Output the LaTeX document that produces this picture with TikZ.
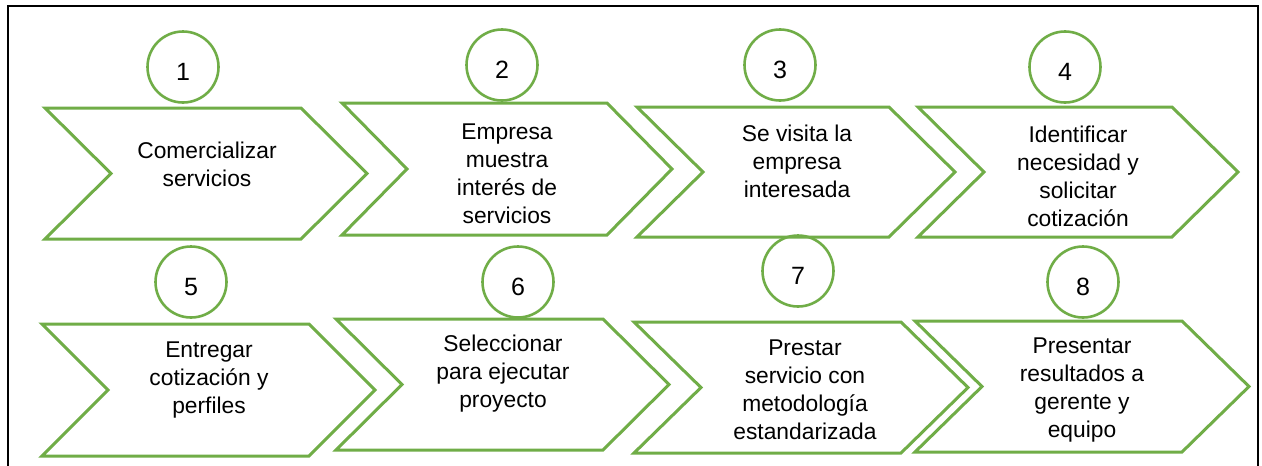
\documentclass[tikz,border=0pt]{standalone}
\usepackage{fontspec}
\setmainfont{Liberation Sans}
\definecolor{ogreen}{HTML}{70AD47}
\tikzset{
  chev/.style={draw=ogreen, line width=3pt, line join=miter, fill=white},
  numc/.style={circle, draw=ogreen, line width=2.6pt, minimum size=71pt, inner sep=0pt, font=\fontsize{25}{28}\selectfont},
  lbl/.style={align=center, inner sep=0pt, font=\fontsize{22.8}{28}\selectfont}
}
\newcommand{\mychev}[5]{\draw[chev] (#1,#2) -- ({#3-#5},#2) -- (#3,{(#2+#4)/2}) -- ({#3-#5},#4) -- (#1,#4) -- ({#1+#5},{(#2+#4)/2}) -- cycle;}
\newcommand{\dig}[1]{\smash{\raisebox{-13.5pt}{#1}}}
\begin{document}
\begin{tikzpicture}[x=1pt,y=-1pt]
\useasboundingbox (0,0) rectangle (1262,466);
\fill[white] (0,0) rectangle (1262,466);
\draw[line width=2pt, line cap=rect] (8,466) -- (8,6) -- (1258,6) -- (1258,466);
% row 1
\mychev{45}{108}{367}{239}{66}
\mychev{342}{103}{672}{235}{65}
\mychev{637}{107}{955}{237}{66}
\mychev{918}{107}{1238}{237}{66}
% row 2
\mychev{42}{324}{375}{456}{66}
\mychev{336}{319}{669}{450}{66}
\mychev{634}{322}{968}{453}{67}
\mychev{915}{321}{1249}{452}{67}
% circles
\node[numc] (c1) at (183,67) {\dig{1}};
\node[numc] (c2) at (502,65) {\dig{2}};
\node[numc] (c3) at (780,65) {\dig{3}};
\node[numc] (c4) at (1065,67) {\dig{4}};
\node[numc] (c5) at (191,282) {\dig{5}};
\node[numc] (c6) at (518,282) {\dig{6}};
\node[numc] (c7) at (798,271) {\dig{7}};
\node[numc] (c8) at (1083,282) {\dig{8}};
% labels
\node[lbl] (t1) at (207,164) {Comercializar\\servicios};
\node[lbl] (t2) at (507,174) {Empresa\\muestra\\interés de\\servicios};
\node[lbl] (t3) at (797,161) {Se visita la\\empresa\\interesada};
\node[lbl] (t4) at (1078,176) {Identificar\\necesidad y\\solicitar\\cotización};
\node[lbl] (t5) at (209,380) {Entregar\\cotización y\\perfiles};
\node[lbl] (t6) at (503,374) {Seleccionar\\para ejecutar\\proyecto};
\node[lbl] (t7) at (805,390) {Prestar\\servicio con\\metodología\\estandarizada};
\node[lbl] (t8) at (1082,390) {Presentar\\resultados a\\gerente y\\equipo};
\end{tikzpicture}
\end{document}
